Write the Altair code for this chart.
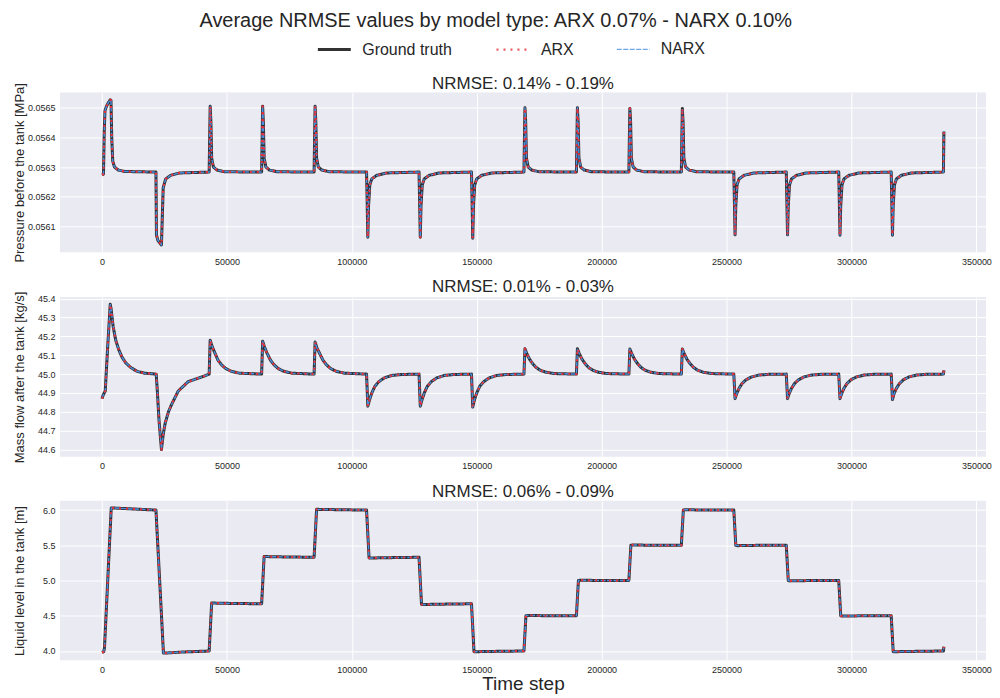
import altair as alt
import pandas as pd

# ---------------- data ----------------
series_names = ["Ground truth", "ARX", "NARX"]
series_colors = ["#000000", "#e8303a", "#4a90e2"]

x_ticks = [0, 50000, 100000, 150000, 200000, 250000, 300000, 350000]

# Panel 1: pressure before the tank [MPa]
t_pressure = [
    0, 600, 900, 1200, 1800, 2600, 3300, 3600, 3900, 4300, 5000, 6500, 9000,
    21600, 21800, 22400, 23200, 23800, 24100, 24500, 25500, 27500, 31000,
    42900, 43100, 43300, 43600, 43900, 44600, 46000, 49000,
    63900, 64100, 64300, 64600, 64900, 65600, 67000, 70000,
    84900, 85100, 85300, 85600, 85900, 86600, 88000, 91000,
    105900, 106100, 106400, 106700, 107200, 108000, 110000, 114000,
    126900, 127100, 127400, 127700, 128200, 129000, 131000, 135000,
    147900, 148100, 148400, 148700, 149200, 150000, 152000, 156000,
    168900, 169100, 169300, 169600, 169900, 170600, 172000, 175000,
    189900, 190100, 190300, 190600, 190900, 191600, 193000, 196000,
    210900, 211100, 211300, 211600, 211900, 212600, 214000, 217000,
    231900, 232100, 232300, 232600, 232900, 233600, 235000, 238000,
    252900, 253100, 253400, 253700, 254200, 255000, 257000, 261000,
    273900, 274100, 274400, 274700, 275200, 276000, 278000, 282000,
    294900, 295100, 295400, 295700, 296200, 297000, 299000, 303000,
    315900, 316100, 316400, 316700, 317200, 318000, 320000, 324000,
    336800, 337000,
]
v_pressure = [
    0.056274, 0.056276, 0.056420, 0.056490, 0.056505, 0.056518, 0.056527, 0.056525, 0.056400, 0.056320, 0.056300, 0.056290, 0.056285,
    0.056283, 0.056070, 0.056052, 0.056043, 0.056037, 0.056120, 0.056230, 0.056260, 0.056272, 0.056280,
    0.056283, 0.056400, 0.056505, 0.056450, 0.056330, 0.056300, 0.056290, 0.056284,
    0.056283, 0.056400, 0.056505, 0.056450, 0.056330, 0.056300, 0.056290, 0.056284,
    0.056283, 0.056400, 0.056505, 0.056450, 0.056330, 0.056300, 0.056290, 0.056284,
    0.056283, 0.056200, 0.056063, 0.056170, 0.056240, 0.056260, 0.056272, 0.056280,
    0.056283, 0.056200, 0.056063, 0.056170, 0.056240, 0.056260, 0.056272, 0.056280,
    0.056283, 0.056200, 0.056060, 0.056170, 0.056240, 0.056260, 0.056272, 0.056280,
    0.056283, 0.056400, 0.056500, 0.056450, 0.056330, 0.056300, 0.056290, 0.056284,
    0.056283, 0.056400, 0.056500, 0.056450, 0.056330, 0.056300, 0.056290, 0.056284,
    0.056283, 0.056400, 0.056498, 0.056450, 0.056330, 0.056300, 0.056290, 0.056284,
    0.056283, 0.056400, 0.056498, 0.056450, 0.056330, 0.056300, 0.056290, 0.056284,
    0.056283, 0.056200, 0.056071, 0.056170, 0.056240, 0.056260, 0.056272, 0.056280,
    0.056283, 0.056200, 0.056071, 0.056170, 0.056240, 0.056260, 0.056272, 0.056280,
    0.056283, 0.056200, 0.056070, 0.056170, 0.056240, 0.056260, 0.056272, 0.056280,
    0.056283, 0.056200, 0.056070, 0.056170, 0.056240, 0.056260, 0.056272, 0.056280,
    0.056283, 0.056420,
]

# Panel 2: mass flow after the tank [kg/s]
t_flow = [
    0, 500, 1300, 2300, 3300, 3600, 4500, 5500, 6700, 8000, 9500, 11500, 14000, 17000, 21700,
    22200, 22800, 23800, 24500, 25300, 26600, 27900, 30500, 34500, 41000,
    42900, 43300, 44000, 45100, 46400, 47800, 49500, 51700, 55000,
    63900, 64300, 65000, 66100, 67400, 68800, 70500, 72700, 76000,
    84900, 85300, 86000, 87100, 88400, 89800, 91500, 93700, 97000,
    105900, 106400, 107000, 108000, 109200, 110800, 113000, 116000, 120000,
    126900, 127400, 128000, 129000, 130200, 131800, 134000, 137000, 141000,
    147900, 148400, 149000, 150000, 151200, 152800, 155000, 158000, 162000,
    168900, 169300, 170000, 171100, 172400, 173800, 175500, 177700, 181000,
    189900, 190300, 191000, 192100, 193400, 194800, 196500, 198700, 202000,
    210900, 211300, 212000, 213100, 214400, 215800, 217500, 219700, 223000,
    231900, 232300, 233000, 234100, 235400, 236800, 238500, 240700, 244000,
    252900, 253400, 254000, 255000, 256200, 257800, 260000, 263000, 267000,
    273900, 274400, 275000, 276000, 277200, 278800, 281000, 284000, 288000,
    294900, 295400, 296000, 297000, 298200, 299800, 302000, 305000, 309000,
    315900, 316400, 317000, 318000, 319200, 320800, 323000, 326000, 330000,
    336800, 337000,
]
v_flow = [
    44.87, 44.89, 44.91, 45.15, 45.37, 45.35, 45.25, 45.18, 45.13, 45.09, 45.06, 45.035, 45.015, 45.005, 45.00,
    44.90, 44.76, 44.60, 44.68, 44.74, 44.80, 44.84, 44.91, 44.96, 44.99,
    45.00, 45.18, 45.15, 45.115, 45.075, 45.05, 45.03, 45.015, 45.005,
    45.00, 45.175, 45.145, 45.11, 45.075, 45.05, 45.03, 45.015, 45.005,
    45.00, 45.17, 45.14, 45.11, 45.075, 45.05, 45.03, 45.015, 45.005,
    45.00, 44.83, 44.86, 44.90, 44.935, 44.96, 44.98, 44.993, 44.998,
    45.00, 44.83, 44.86, 44.90, 44.935, 44.96, 44.98, 44.993, 44.998,
    45.00, 44.825, 44.86, 44.90, 44.935, 44.96, 44.98, 44.993, 44.998,
    45.00, 45.135, 45.11, 45.08, 45.055, 45.035, 45.02, 45.01, 45.003,
    45.00, 45.135, 45.11, 45.08, 45.055, 45.035, 45.02, 45.01, 45.003,
    45.00, 45.133, 45.11, 45.08, 45.055, 45.035, 45.02, 45.01, 45.003,
    45.00, 45.133, 45.11, 45.08, 45.055, 45.035, 45.02, 45.01, 45.003,
    45.00, 44.87, 44.895, 44.925, 44.95, 44.97, 44.985, 44.995, 44.999,
    45.00, 44.87, 44.895, 44.925, 44.95, 44.97, 44.985, 44.995, 44.999,
    45.00, 44.87, 44.895, 44.925, 44.95, 44.97, 44.985, 44.995, 44.999,
    45.00, 44.865, 44.895, 44.925, 44.95, 44.97, 44.985, 44.995, 44.999,
    45.00, 45.02,
]

# Panel 3: liquid level in the tank [m]
t_level = [
    0, 700, 1000, 3700, 4200, 10000, 21600, 24600, 25200, 32000, 42900,
    43900, 44500, 52000, 63900, 64900, 65500, 73000, 84900, 85900, 86500, 95000, 105900,
    106900, 107500, 116000, 126900, 127900, 128500, 137000, 147900, 148900, 149500, 158000, 168900,
    169700, 170300, 179000, 189900, 190700, 191300, 200000, 210900, 211700, 212300, 221000, 231900,
    232700, 233300, 242000, 252900, 253700, 254300, 263000, 273900, 274700, 275300, 284000, 294900,
    295700, 296300, 305000, 315900, 316700, 317300, 326000, 336800, 337000,
]
v_level = [
    3.98, 3.99, 4.05, 6.03, 6.03, 6.02, 6.00, 3.97, 3.97, 3.985, 4.00,
    4.68, 4.68, 4.675, 4.67, 5.34, 5.34, 5.335, 5.33, 6.01, 6.01, 6.005, 6.00,
    5.32, 5.32, 5.325, 5.33, 4.66, 4.66, 4.665, 4.67, 3.99, 3.99, 3.995, 4.00,
    4.50, 4.505, 4.50, 4.50, 5.00, 5.005, 5.00, 5.00, 5.50, 5.505, 5.50, 5.50,
    6.00, 6.005, 6.00, 6.00, 5.50, 5.495, 5.50, 5.50, 5.00, 4.995, 5.00, 5.00,
    4.50, 4.495, 4.50, 4.50, 3.99, 3.99, 3.995, 4.00, 4.06,
]

# Both model predictions overlap the ground truth at this resolution
panels = [
    dict(t=t_pressure, truth=v_pressure, arx=v_pressure, narx=v_pressure,
         title="NRMSE: 0.14% - 0.19%", ytitle="Pressure before the tank [MPa]",
         ydomain=[0.0560125, 0.0565515],
         yticks=[0.0561, 0.0562, 0.0563, 0.0564, 0.0565], yfmt=".4f"),
    dict(t=t_flow, truth=v_flow, arx=v_flow, narx=v_flow,
         title="NRMSE: 0.01% - 0.03%", ytitle="Mass flow after the tank [kg/s]",
         ydomain=[44.5615, 45.4085],
         yticks=[44.6, 44.7, 44.8, 44.9, 45.0, 45.1, 45.2, 45.3, 45.4], yfmt=".1f"),
    dict(t=t_level, truth=v_level, arx=v_level, narx=v_level,
         title="NRMSE: 0.06% - 0.09%", ytitle="Liquid level in the tank [m]",
         ydomain=[3.867, 6.133],
         yticks=[4.0, 4.5, 5.0, 5.5, 6.0], yfmt=".1f"),
]

x_domain = [-16850, 353850]
FONT = "Liberation Sans"
PW, PH = 928, 160

color_scale = alt.Scale(domain=series_names, range=series_colors)
dash_scale = alt.Scale(domain=series_names, range=[[1, 0], [2, 5], [5, 1.5]])
width_scale = alt.Scale(domain=series_names, range=[3.0, 1.4, 2.4])
title_offsets = [4, -5, -0.5]


def make_panel(i, p):
    rows = []
    for name, key in zip(series_names, ["truth", "arx", "narx"]):
        for tt, vv in zip(p["t"], p[key]):
            rows.append({"t": tt, "v": vv, "series": name})
    df = pd.DataFrame(rows)

    if i == 0:
        leg = alt.Legend(
            title=None, orient="none", legendX=257, legendY=-61,
            direction="horizontal", symbolType="stroke", symbolSize=1089,
            labelFontSize=16, labelFont=FONT, labelColor="#262626",
            labelOffset=10, columnPadding=40,
        )
        title_dy = 65.5
    else:
        leg = None
        title_dy = 0

    xaxis = alt.Axis(
        values=x_ticks, format="d", title="Time step" if i == 2 else None,
        titleFontSize=19, titleFontWeight="normal", titleFont=FONT,
        titleColor="#262626", titlePadding=0,
    )
    yaxis = alt.Axis(
        values=p["yticks"], format=p["yfmt"], title=p["ytitle"],
        titleFontSize=13, titleFontWeight="normal", titleFont=FONT,
        titleColor="#262626", titleX=-40, titleBaseline="middle",
    )
    base = alt.Chart(df).mark_line(strokeCap="butt", strokeJoin="round").encode(
        x=alt.X("t:Q", scale=alt.Scale(domain=x_domain, nice=False, zero=False), axis=xaxis),
        y=alt.Y("v:Q", scale=alt.Scale(domain=p["ydomain"], nice=False, zero=False), axis=yaxis),
        color=alt.Color("series:N", scale=color_scale, legend=leg, sort=series_names),
        strokeDash=alt.StrokeDash("series:N", scale=dash_scale, legend=leg, sort=series_names),
        strokeWidth=alt.StrokeWidth("series:N", scale=width_scale, legend=leg, sort=series_names),
        detail="series:N",
    )
    layers = [base.transform_filter(alt.datum.series == "Ground truth").mark_line(
                  strokeCap="butt", strokeJoin="round", opacity=0.8),
              base.transform_filter(alt.datum.series == "NARX"),
              base.transform_filter(alt.datum.series == "ARX")]
    return alt.layer(*layers).properties(
        width=PW, height=PH,
        title=alt.TitleParams(p["title"], fontSize=17, fontWeight="normal",
                              font=FONT, color="#262626",
                              offset=title_offsets[i], dy=title_dy),
    )


charts = [make_panel(i, p) for i, p in enumerate(panels)]

chart = alt.vconcat(*charts, spacing=12).resolve_scale(
    color="independent", strokeDash="independent", strokeWidth="independent"
).resolve_legend(
    color="independent", strokeDash="independent", strokeWidth="independent"
).properties(
    title=alt.TitleParams(
        "Average NRMSE values by model type: ARX 0.07% - NARX 0.10%",
        fontSize=20, fontWeight="normal", font=FONT, color="#262626",
        anchor="middle", offset=1, dx=-7,
    ),
    padding={"left": 5, "top": 2, "right": 0, "bottom": 0},
    background="#FFFFFF",
).configure_view(
    fill="#EAEAF2", strokeWidth=0
).configure_axis(
    grid=True, gridColor="#FFFFFF", gridWidth=1, domain=False, ticks=False,
    labelFont=FONT, labelFontSize=9, labelColor="#262626", labelPadding=5,
)

chart.save("out.html", embed_options={"renderer": "svg", "actions": False})
